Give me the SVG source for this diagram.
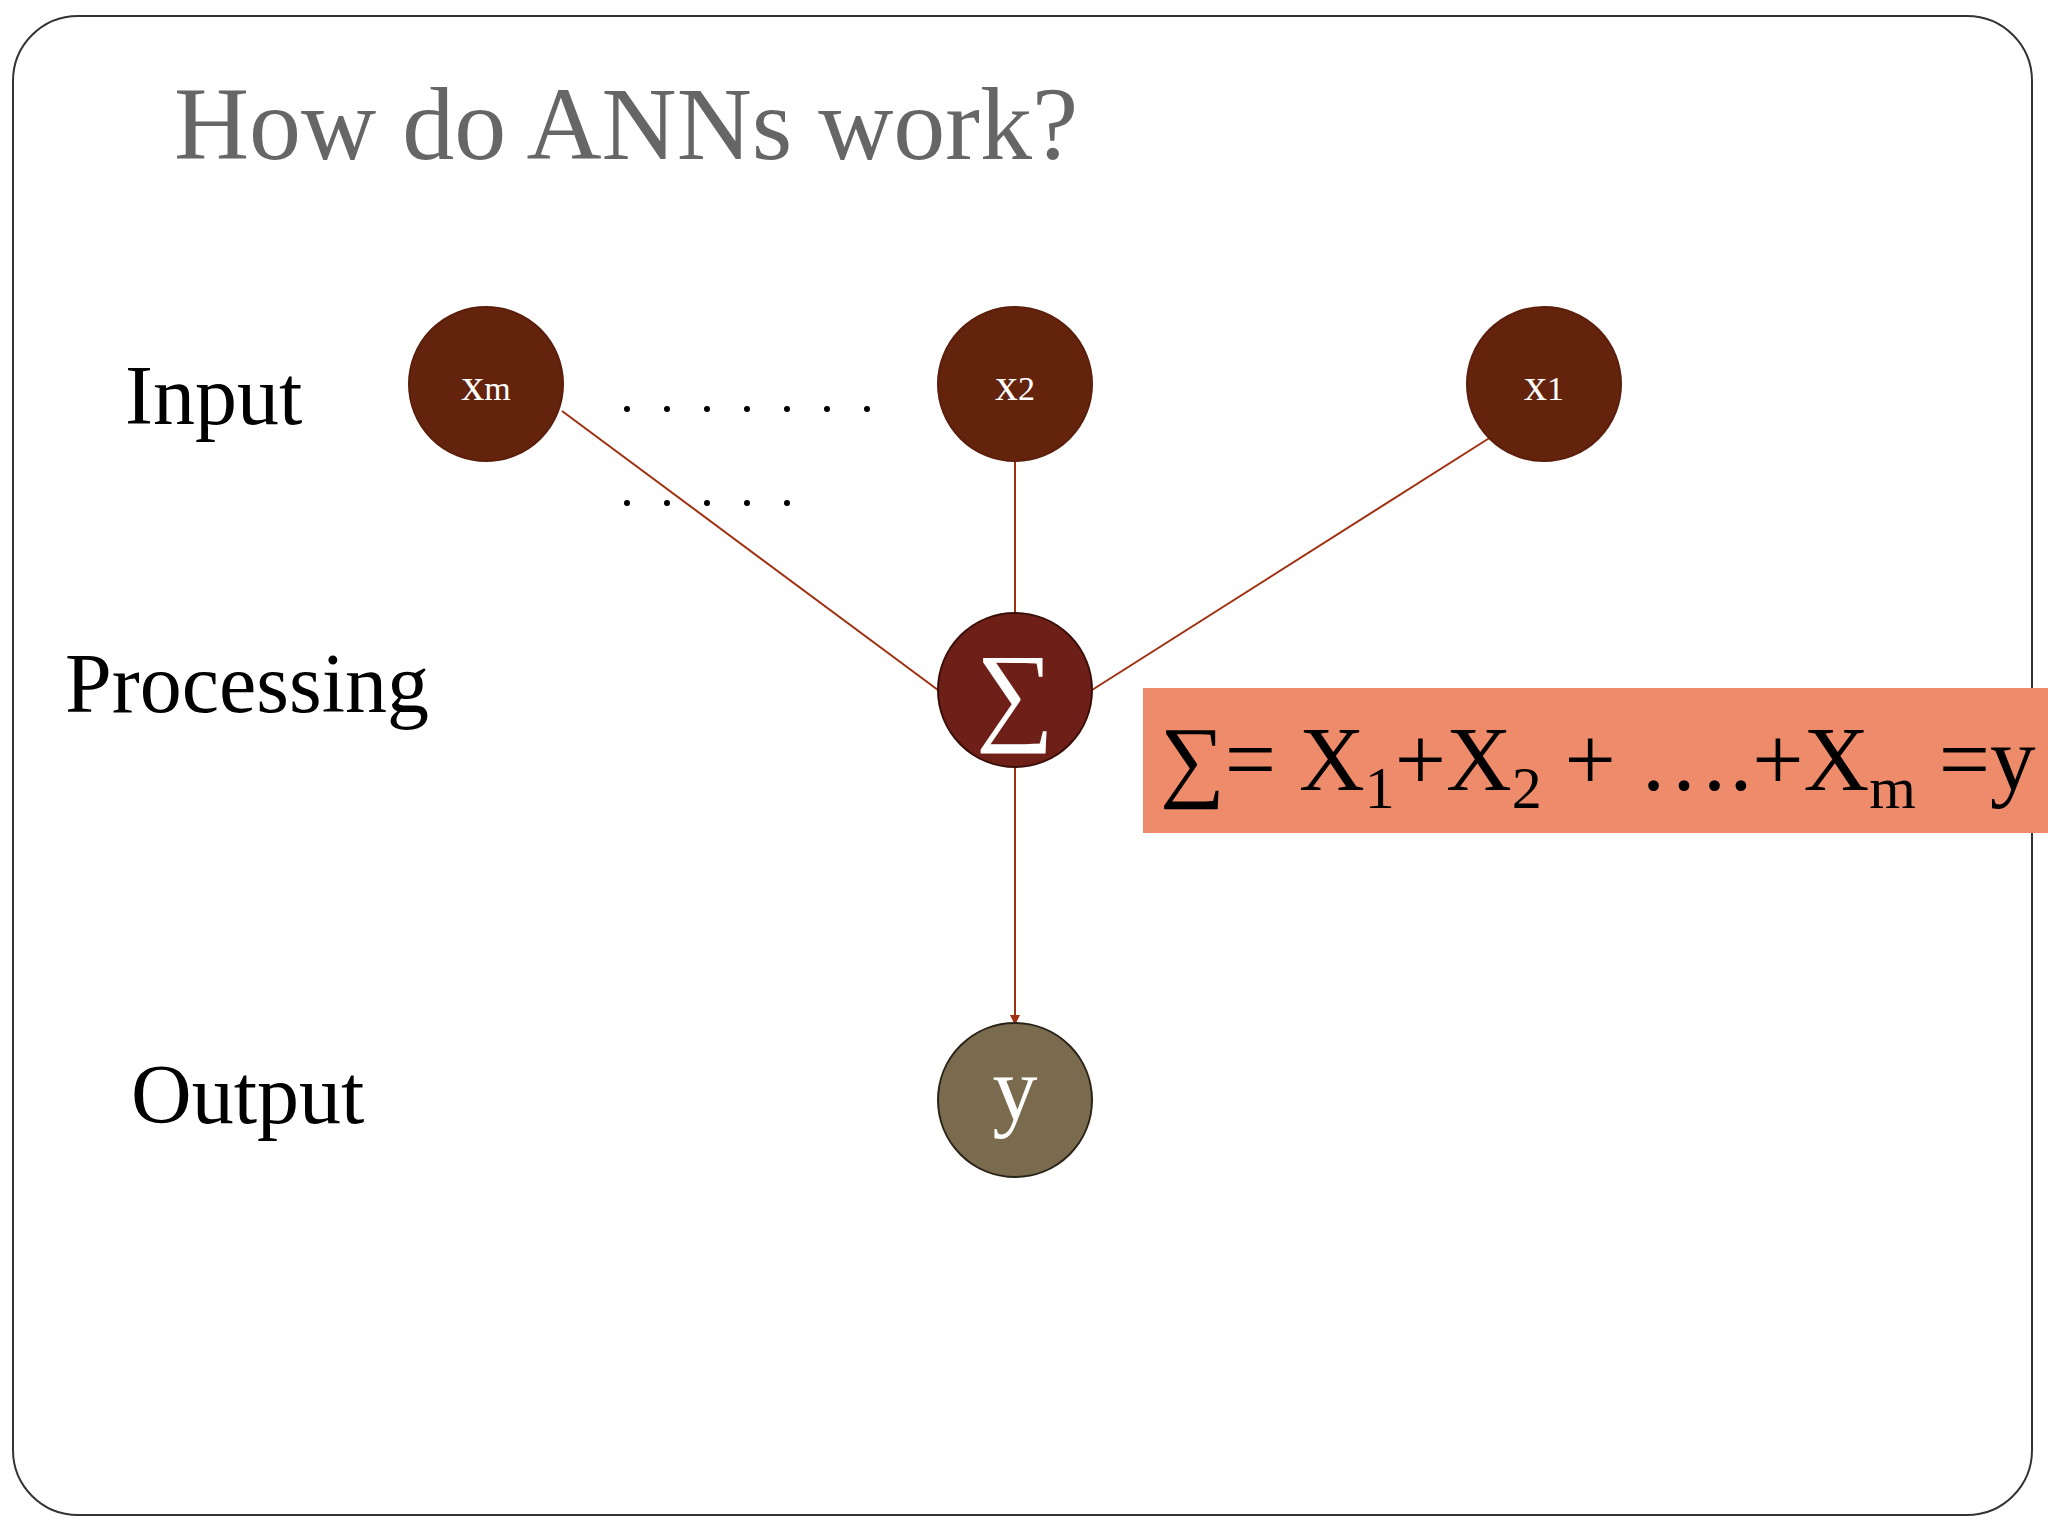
<svg xmlns="http://www.w3.org/2000/svg" width="2048" height="1536" viewBox="0 0 2048 1536">
<style>
.lbl{font-family:"Liberation Serif",serif;font-size:84px;fill:#000}
.in{fill:#64230c;stroke:#5a1e0a;stroke-width:2}
.ct{font-family:"Liberation Serif",serif;fill:#fff;text-anchor:middle}
.ln{stroke:#a0300f;stroke-width:2;fill:none}
.dot{fill:#000}
</style>
<defs><marker id="ah" markerWidth="10" markerHeight="10" refX="8" refY="5" orient="auto" markerUnits="userSpaceOnUse"><path d="M0,0 L10,5 L0,10 z" fill="#a0300f"/></marker></defs>
<rect width="2048" height="1536" fill="#fff"/>
<rect x="13" y="16" width="2019" height="1499" rx="65" fill="#fff" stroke="#333" stroke-width="2"/>
<text x="174" y="159" font-family="Liberation Serif,serif" font-size="104" fill="#666">How do ANNs work?</text>
<text class="lbl" x="125" y="424">Input</text>
<text class="lbl" x="65" y="712">Processing</text>
<text class="lbl" x="131" y="1123">Output</text>
<g id="connectors">
<line class="ln" x1="562" y1="411" x2="938" y2="690"/>
<line class="ln" x1="1015" y1="461" x2="1015" y2="613"/>
<line class="ln" x1="1491" y1="437" x2="1092" y2="690"/>
<line class="ln" x1="1015" y1="768" x2="1015" y2="1023" marker-end="url(#ah)"/>
</g>
<g id="dots">
<circle class="dot" cx="627" cy="409" r="3"/><circle class="dot" cx="667" cy="409" r="3"/><circle class="dot" cx="707" cy="409" r="3"/><circle class="dot" cx="747" cy="409" r="3"/><circle class="dot" cx="787" cy="409" r="3"/><circle class="dot" cx="827" cy="409" r="3"/><circle class="dot" cx="867" cy="409" r="3"/>
<circle class="dot" cx="627" cy="503" r="3"/><circle class="dot" cx="667" cy="503" r="3"/><circle class="dot" cx="707" cy="503" r="3"/><circle class="dot" cx="747" cy="503" r="3"/><circle class="dot" cx="787" cy="503" r="3"/>
</g>
<g id="xm"><circle class="in" cx="486" cy="384" r="77"/><text class="ct" x="486" y="400" font-size="46">x<tspan font-size="34">m</tspan></text></g>
<g id="x2"><circle class="in" cx="1015" cy="384" r="77"/><text class="ct" x="1015" y="400" font-size="46">x<tspan font-size="34">2</tspan></text></g>
<g id="x1"><circle class="in" cx="1544" cy="384" r="77" stroke="#a0300f"/><text class="ct" x="1544" y="400" font-size="46">x<tspan font-size="34">1</tspan></text></g>
<g id="sigma"><circle cx="1015" cy="690" r="77" fill="#6e1f17" stroke="#3a0e08" stroke-width="2"/><text class="ct" x="1015" y="730" font-size="110">∑</text></g>
<g id="y"><circle cx="1015" cy="1100" r="77" fill="#7a6a4e" stroke="#2a2418" stroke-width="2"/><text class="ct" x="1015" y="1120" font-size="90">y</text></g>
<g id="formula"><rect x="1143" y="688" width="905" height="145" fill="#ee8b6b"/>
<text x="1160" y="790" font-family="Liberation Serif,serif" font-size="91" fill="#000">∑= X<tspan font-size="60" dy="18">1</tspan><tspan dy="-18">+X</tspan><tspan font-size="60" dy="18">2</tspan><tspan dy="-18"> + ….+X</tspan><tspan font-size="60" dy="18">m</tspan><tspan dy="-18"> =y</tspan></text></g>
</svg>
